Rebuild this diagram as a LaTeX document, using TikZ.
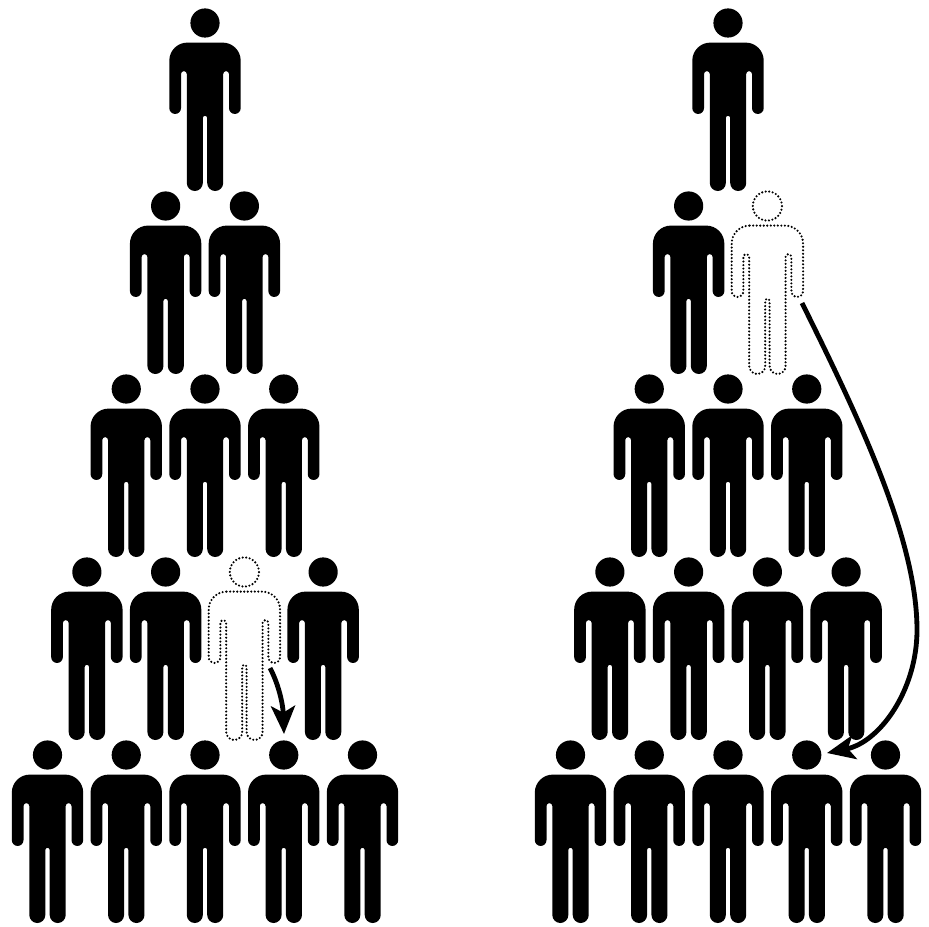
\documentclass[tikz,border=0pt]{standalone}
\usetikzlibrary{arrows.meta}
\newcommand{\RowGap}{183}
\newcommand{\ColGap}{78.75}
\newcommand{\LeftX}{205}
\newcommand{\RightX}{728}
\newcommand{\TopY}{-23}

\tikzset{
  person/.pic={
    \path[pic actions] (0,0) circle (14.6);
    \path[pic actions] (-17.7,-19.6) -- (17.7,-19.6) arc (90:0:18) -- (35.7,-85.1) arc (0:-180:5.85)
      -- (24,-51) arc (0:180:2.9) -- (18.2,-160) arc (0:-180:8) -- (2.2,-95) arc (0:180:2.2)
      -- (-2.2,-160) arc (0:-180:8) -- (-18.2,-51) arc (0:180:2.9) -- (-24,-85.1) arc (0:-180:5.85)
      -- (-35.7,-37.6) arc (180:90:18) -- cycle;
  }
}

\begin{document}
\begin{tikzpicture}[
    x=0.03cm, y=0.03cm,
    solid figure/.style={fill=black, draw=none},
    ghost figure/.style={draw=black, fill=none, line width=2pt, line cap=round, dash pattern=on 0pt off 3pt},
    move/.style={-{Stealth[length=8.4mm, width=7.2mm, inset=2mm]}, line width=1.45mm, draw=black},
  ]
\useasboundingbox (0,0) rectangle (929,-926);

% --- Left pyramid: one moves down a row -----------------------------------------
\foreach \r/\first/\n in {0/0/0, 1/-0.5/1, 2/-1/2, 3/-1.5/3, 4/-2/4} {
  \foreach \c in {0,...,\n} {
    \ifnum\r\c=32
      \pic[ghost figure] (left\r\c) at ({\LeftX+(\first+\c)*\ColGap}, {\TopY-\r*\RowGap}) {person};
    \else
      \pic[solid figure] (left\r\c) at ({\LeftX+(\first+\c)*\ColGap}, {\TopY-\r*\RowGap}) {person};
    \fi
  }
}

% --- Right pyramid: one moves three rows down ------------------------------------
\foreach \r/\first/\n in {0/0/0, 1/-0.5/1, 2/-1/2, 3/-1.5/3, 4/-2/4} {
  \foreach \c in {0,...,\n} {
    \ifnum\r\c=11
      \pic[ghost figure] (right\r\c) at ({\RightX+(\first+\c)*\ColGap}, {\TopY-\r*\RowGap}) {person};
    \else
      \pic[solid figure] (right\r\c) at ({\RightX+(\first+\c)*\ColGap}, {\TopY-\r*\RowGap}) {person};
    \fi
  }
}

% --- Moves ------------------------------------------------------------------------
\coordinate (shortfrom) at (270,-668);
\coordinate (shortto) at (284,-734);
\coordinate (longfrom) at (802,-303);
\coordinate (longbend) at (917,-630);
\coordinate (longto) at (827,-753);
\draw[move] (shortfrom) .. controls (279,-685) and (283,-705) .. (shortto);
\draw[move] (longfrom) .. controls (860,-420) and (917,-540) .. (longbend)
  .. controls (917,-690) and (880,-742) .. (longto);

\end{tikzpicture}
\end{document}
